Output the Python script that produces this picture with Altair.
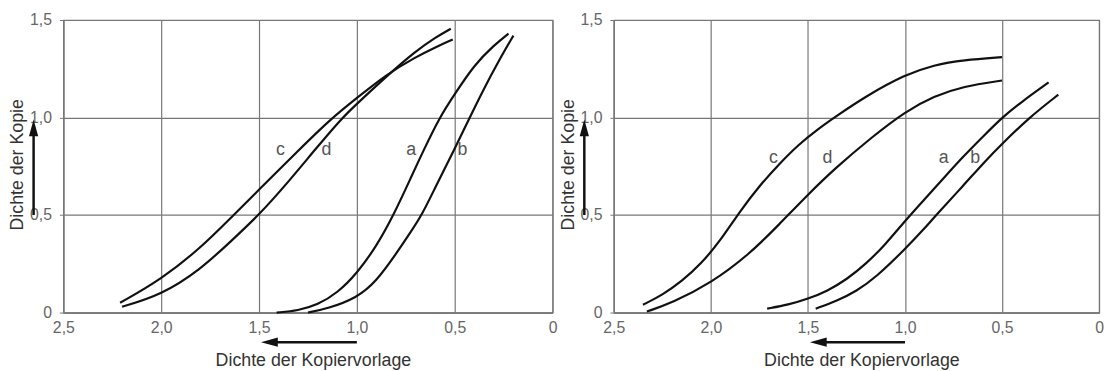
import altair as alt
import pandas as pd

# ---------------- data ----------------
# Left panel
L_a_x = [1.41, 1.30, 1.20, 1.10, 1.00, 0.90, 0.812, 0.72, 0.66, 0.578, 0.50, 0.40, 0.30, 0.225]
L_a_y = [0.00, 0.01, 0.04, 0.10, 0.20, 0.34, 0.50, 0.70, 0.83, 1.00, 1.12, 1.27, 1.37, 1.43]
L_b_x = [1.25, 1.15, 1.00, 0.90, 0.80, 0.72, 0.668, 0.60, 0.50, 0.433, 0.35, 0.27, 0.20]
L_b_y = [0.00, 0.02, 0.075, 0.16, 0.30, 0.42, 0.50, 0.64, 0.84, 0.98, 1.15, 1.30, 1.42]
L_c_x = [2.21, 2.00, 1.80, 1.65, 1.50, 1.30, 1.137, 1.00, 0.85, 0.70, 0.60, 0.51]
L_c_y = [0.05, 0.17, 0.33, 0.48, 0.63, 0.83, 0.99, 1.10, 1.22, 1.31, 1.36, 1.40]
L_d_x = [2.20, 2.00, 1.80, 1.65, 1.50, 1.35, 1.21, 1.074, 1.00, 0.85, 0.70, 0.60, 0.52]
L_d_y = [0.03, 0.09, 0.22, 0.36, 0.50, 0.67, 0.84, 1.00, 1.07, 1.21, 1.34, 1.41, 1.455]

# Right panel
R_a_x = [1.71, 1.60, 1.50, 1.40, 1.30, 1.20, 1.10, 1.00, 0.90, 0.80, 0.70, 0.60, 0.50, 0.40, 0.26]
R_a_y = [0.02, 0.04, 0.07, 0.11, 0.17, 0.25, 0.35, 0.47, 0.58, 0.69, 0.80, 0.90, 1.00, 1.08, 1.18]
R_b_x = [1.46, 1.35, 1.25, 1.15, 1.00, 0.90, 0.84, 0.70, 0.584, 0.50, 0.36, 0.21]
R_b_y = [0.02, 0.06, 0.11, 0.18, 0.325, 0.43, 0.50, 0.65, 0.78, 0.865, 1.00, 1.117]
R_c_x = [2.35, 2.25, 2.15, 2.05, 1.95, 1.85, 1.75, 1.65, 1.55, 1.45, 1.35, 1.20, 1.00, 0.85, 0.70, 0.50]
R_c_y = [0.04, 0.09, 0.16, 0.25, 0.37, 0.52, 0.65, 0.76, 0.86, 0.94, 1.01, 1.11, 1.22, 1.27, 1.295, 1.31]
R_d_x = [2.33, 2.20, 2.00, 1.80, 1.65, 1.50, 1.36, 1.17, 1.00, 0.85, 0.70, 0.50]
R_d_y = [0.005, 0.05, 0.15, 0.30, 0.45, 0.605, 0.74, 0.90, 1.03, 1.11, 1.16, 1.19]

# curve labels
label_text = ["a", "b", "c", "d"]
L_label_x = [0.722, 0.46, 1.39, 1.155]
L_label_y = [0.835, 0.835, 0.835, 0.835]
R_label_x = [0.801, 0.638, 1.678, 1.40]
R_label_y = [0.79, 0.79, 0.79, 0.79]

x_ticks = [0, 0.5, 1.0, 1.5, 2.0, 2.5]
y_ticks = [0, 0.5, 1.0, 1.5]
x_title = "Dichte der Kopiervorlage"
y_title = "Dichte der Kopie"

FONT = "Liberation Sans"
LBL = "datum.value == 0 ? '0' : replace(format(datum.value, '.1f'), '.', ',')"
H = 296


def curves_df(curves):
    rows = []
    for name, xs, ys in curves:
        for i, (x, y) in enumerate(zip(xs, ys)):
            rows.append({"curve": name, "i": i, "x": x, "y": y})
    return pd.DataFrame(rows)


def panel(curves, lab_x, lab_y, W):
    xs = alt.Scale(domain=[0, 2.5], reverse=True, nice=False, zero=False)
    ys = alt.Scale(domain=[0, 1.5], nice=False, zero=False)
    xaxis = alt.Axis(values=x_ticks, labelExpr=LBL, title=x_title, grid=True,
                     ticks=False, labelPadding=7, labelFlush=False,
                     titleX=W / 2 + 5, titleY=49,
                     titleBaseline="middle", titleAlign="center")
    yaxis = alt.Axis(values=y_ticks, labelExpr=LBL, title=y_title, grid=True,
                     ticks=True, tickSize=4, labelPadding=8, labelFlush=False,
                     titleX=-46, titleY=H / 2 - 2, titleAngle=-90,
                     titleBaseline="middle", titleAlign="center")
    X = lambda: alt.X("x:Q", scale=xs, axis=xaxis)
    Y = lambda: alt.Y("y:Q", scale=ys, axis=yaxis)
    df = curves_df(curves)
    lines = alt.Chart(df).mark_line(
        interpolate="basis", color="#111", strokeWidth=2.2
    ).encode(x=X(), y=Y(), detail="curve:N", order="i:Q")
    ldf = pd.DataFrame({"t": label_text, "x": lab_x, "y": lab_y})
    labels = alt.Chart(ldf).mark_text(
        font=FONT, fontSize=18, fill="#555", align="center", baseline="middle"
    ).encode(x=X(), y=Y(), text="t:N")
    # axis arrows
    hx = pd.DataFrame({"x": [1.0], "x2": [1.45], "y": [-0.152]})
    harrow = alt.Chart(hx).mark_rule(color="#111", strokeWidth=2.5).encode(
        x=X(), x2="x2:Q", y=Y())
    hhead = alt.Chart(pd.DataFrame({"x": [1.49], "y": [-0.152]})).mark_point(
        shape="M0,0L2,-0.55L2,0.55Z", size=289, filled=True, opacity=1,
        color="#111").encode(x=X(), y=Y())
    vy = pd.DataFrame({"x": [2.652], "y": [0.5], "y2": [0.95]})
    varrow = alt.Chart(vy).mark_rule(color="#111", strokeWidth=2.5).encode(
        x=X(), y=Y(), y2="y2:Q")
    vhead = alt.Chart(pd.DataFrame({"x": [2.652], "y": [0.99]})).mark_point(
        shape="M0,0L-0.55,2L0.55,2Z", size=289, filled=True, opacity=1,
        color="#111").encode(x=X(), y=Y())
    return alt.layer(lines, labels, harrow, hhead, varrow, vhead).properties(
        width=W, height=H)


left = panel([("a", L_a_x, L_a_y), ("b", L_b_x, L_b_y),
              ("c", L_c_x, L_c_y), ("d", L_d_x, L_d_y)], L_label_x, L_label_y, 495)
right = panel([("a", R_a_x, R_a_y), ("b", R_b_x, R_b_y),
               ("c", R_c_x, R_c_y), ("d", R_d_x, R_d_y)], R_label_x, R_label_y, 491)

chart = alt.hconcat(left, right, spacing=0).properties(
    padding={"left": 0, "top": 1, "right": 0, "bottom": 0}
).configure_view(
    stroke="#777", strokeWidth=1.2
).configure_axis(
    labelFont=FONT, labelFontSize=16, labelColor="#666",
    titleFont=FONT, titleFontSize=18, titleColor="#333", titleFontWeight="normal",
    gridColor="#777", gridWidth=1.2, gridOpacity=1,
    domainColor="#777", domainWidth=1.2, tickColor="#777",
)

chart.save("out.html", embed_options={"renderer": "svg", "actions": False})
